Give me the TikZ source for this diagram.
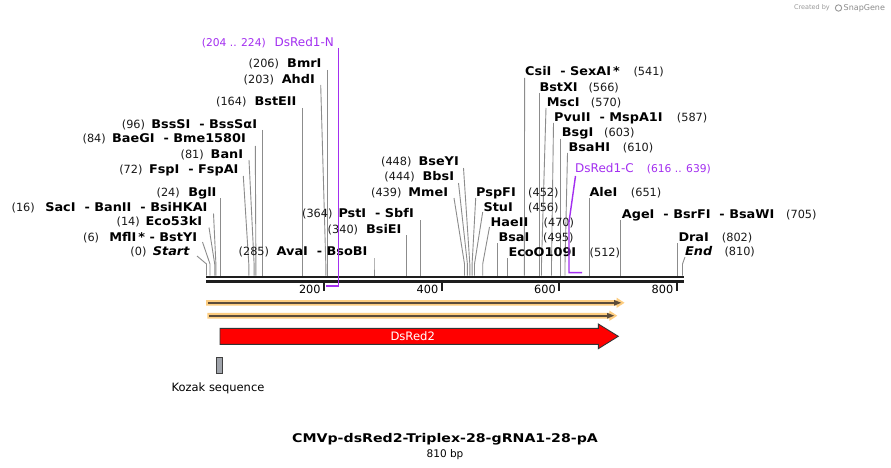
\documentclass[tikz,border=0pt]{standalone}
\usepackage{fontspec}
\setmainfont{DejaVu Sans}
\newfontfamily\nmfont[FakeStretch=1.07]{DejaVu Sans}
\newfontfamily\ttlfont[FakeStretch=1.18]{DejaVu Sans}
\definecolor{prim}{RGB}{163,47,240}
\definecolor{siteln}{RGB}{140,140,140}
\definecolor{barcol}{RGB}{30,30,30}
\definecolor{featorange}{RGB}{253,205,128}
\definecolor{featdark}{RGB}{92,76,58}
\definecolor{kozakgray}{RGB}{160,164,171}
\tikzset{
  numtxt/.style={font=\fontsize{11.3}{13}\selectfont, inner sep=0pt, text=black!90},
  nametxt/.style={font=\nmfont\bfseries\fontsize{12}{14}\selectfont, inner sep=0pt, text=black},
  primtxt/.style={font=\fontsize{12}{14}\selectfont, inner sep=0pt, text=prim},
  primnum/.style={font=\fontsize{10.7}{12}\selectfont, inner sep=0pt, text=prim},
  siteline/.style={draw=siteln, line width=0.9pt},
  primline/.style={draw=prim, line width=1.4pt},
  barline/.style={draw=barcol, line width=2.7pt},
  tickline/.style={draw=barcol, line width=1.8pt},
  ticktxt/.style={font=\fontsize{11.3}{13}\selectfont, inner sep=0pt, anchor=base east},
}
% left-type label: id, num, name, name right edge, num right edge, baseline
\newcommand\SiteL[6]{%
  \node[numtxt, anchor=base east] (#1-n) at (#5,#6) {(#2)};
  \node[nametxt, anchor=base east] (#1-t) at (#4,#6) {#3};}
% right-type label: id, num, name, name left edge, num left edge, baseline
\newcommand\SiteR[6]{%
  \node[nametxt, anchor=base west] (#1-t) at (#4,#6) {#3};
  \node[numtxt, anchor=base west] (#1-n) at (#5,#6) {(#2)};}
% site line: x top, y top, x site
\newcommand\SLine[3]{\draw[siteline] (#1,#2) -- (#3,264) -- (#3,275.6);}
\begin{document}
\begin{tikzpicture}[x=1pt,y=-1pt]
\useasboundingbox (0,0) rectangle (891,468);
\fill[white] (0,0) rectangle (891,468);

% ---------- site lines ----------
\SLine{197}{256}{206.5}
\SLine{202.5}{242}{210.0}
\SLine{209}{227.5}{214.7}
\SLine{213.5}{213.5}{215.9}
\SLine{220.6}{198}{220.6}
\SLine{243.3}{176}{248.8}
\SLine{249}{160}{254.1}
\SLine{255.3}{146}{255.9}
\SLine{262.9}{130}{262.9}
\SLine{302.9}{108}{302.9}
\SLine{320.7}{85}{325.8}
\SLine{327.6}{70}{327.6}
\SLine{374.0}{258}{374.0}
\SLine{406.3}{235}{406.3}
\SLine{420.4}{220}{420.4}
\SLine{454}{198}{464.5}
\SLine{458.5}{183}{467.4}
\SLine{463.5}{168}{469.8}
\SLine{475.7}{198}{472.1}
\SLine{482.7}{212}{474.5}
\SLine{489.5}{227}{482.7}
\SLine{497.4}{243}{497.4}
\SLine{507.4}{258}{507.4}
\SLine{524.6}{78}{524.4}
\SLine{539.1}{93}{539.1}
\SLine{546}{108}{541.5}
\SLine{553.5}{123}{551.5}
\SLine{560.9}{139}{560.9}
\SLine{567.5}{153}{565.0}
\SLine{589.1}{198}{589.1}
\SLine{620.8}{220}{620.8}
\SLine{677.8}{243}{677.8}
\SLine{685}{257}{682.5}

% ---------- left labels ----------
\SiteL{start}{0}{\textit{Start}}{190}{146.7}{255.9}
\SiteL{mfl}{6}{MflI\,*~- BstYI}{197.3}{99.3}{241.5}
\SiteL{eco53}{14}{Eco53kI}{202.3}{140}{225.9}
\SiteL{sac}{16}{SacI~~- BanII~~- BsiHKAI}{207.7}{35}{211.5}
\SiteL{bgl}{24}{BglI}{216.7}{180}{196.5}
\SiteL{fsp}{72}{FspI~~- FspAI}{238.7}{142.7}{173.2}
\SiteL{ban}{81}{BanI}{243.3}{204}{158.5}
\SiteL{baeg}{84}{BaeGI~~- Bme1580I}{246}{106}{142.5}
\SiteL{bsss}{96}{BssSI~~- BssSαI}{257.3}{145.3}{128.2}
\SiteL{bsteii}{164}{BstEII}{296.7}{246.7}{105.9}
\SiteL{ahd}{203}{AhdI}{315}{274.3}{83.2}
\SiteL{bmr}{206}{BmrI}{321.7}{279.3}{67.9}
\SiteL{ava}{285}{AvaI~~- BsoBI}{367.7}{269.3}{255.9}
\SiteL{bsie}{340}{BsiEI}{401.7}{358.3}{233.2}
\SiteL{pst}{364}{PstI~~- SbfI}{414}{332.7}{217.5}
\SiteL{mme}{439}{MmeI}{448.3}{401.7}{196.5}
\SiteL{bbs}{444}{BbsI}{454.3}{415}{180.9}
\SiteL{bsey}{448}{BseYI}{459}{411.7}{165.9}

% ---------- right labels ----------
\SiteR{pspf}{452}{PspFI}{476}{528}{196.2}
\SiteR{stu}{456}{StuI}{483.3}{528}{211.2}
\SiteR{haeii}{470}{HaeII}{490.5}{543.5}{226.2}
\SiteR{bsa}{495}{BsaI}{498.3}{543}{241.2}
\SiteR{ecoo}{512}{EcoO109I}{508.3}{589.5}{256.2}
\SiteR{csi}{541}{CsiI~~- SexAI\,*}{525}{633.3}{75.9}
\SiteR{bstx}{566}{BstXI}{539.3}{588.3}{91.5}
\SiteR{msc}{570}{MscI}{546.7}{590.7}{106.5}
\SiteR{pvu}{587}{PvuII~~- MspA1I}{554}{676.7}{121.5}
\SiteR{bsg}{603}{BsgI}{561.7}{604}{136.5}
\SiteR{bsah}{610}{BsaHI}{568.3}{622.7}{151.5}
\SiteR{ale}{651}{AleI}{589.3}{630.7}{196.5}
\SiteR{age}{705}{AgeI~~- BsrFI~~- BsaWI}{621.7}{786}{218.2}
\SiteR{dra}{802}{DraI}{678.3}{721.7}{241.5}
\SiteR{endl}{810}{\textit{End}}{685}{724.3}{255.9}

% ---------- primer labels ----------
\node[primnum, anchor=base east] (pn-n) at (266,46.2) {(204 .. 224)};
\node[primtxt, anchor=base east] (pn-t) at (334,46.2) {DsRed1-N};
\node[primtxt, anchor=base west] (pc-t) at (575,172.5) {DsRed1-C};
\node[primnum, anchor=base west] (pc-n) at (646.7,172.5) {(616 .. 639)};

% ---------- sequence bar ----------
\draw[barline] (206,277) -- (684,277);
\draw[barline] (206,281.4) -- (684,281.4);
\foreach \tx/\tl in {324.0/200, 441.6/400, 559.1/600, 676.7/800}{
  \draw[tickline] (\tx,282) -- (\tx,290.5);
  \node[ticktxt] (tick\tl) at (\tx-3.2,293.7) {\tl};
}

% ---------- primer brackets ----------
\draw[primline] (338.3,48) -- (338.3,286) -- (326.4,286);
\draw[primline] (575.5,176) -- (569,222) -- (569,272.6) -- (582,272.6);

% ---------- thin feature arrows ----------
\fill[featorange] (206,300) -- (616.5,300) -- (616.5,297.6) -- (624.5,302.8) -- (616.5,308) -- (616.5,305.6) -- (206,305.6) -- cycle;
\draw[featdark, line width=1.8pt] (208,302.8) -- (615,302.8);
\fill[featdark] (614,299.9) -- (621.2,302.8) -- (614,305.7) -- cycle;

\fill[featorange] (207.3,312.9) -- (609.3,312.9) -- (609.3,310.5) -- (617.3,315.7) -- (609.3,320.9) -- (609.3,318.5) -- (207.3,318.5) -- cycle;
\draw[featdark, line width=1.8pt] (209.3,315.7) -- (608,315.7);
\fill[featdark] (607,312.8) -- (614.2,315.7) -- (607,318.6) -- cycle;

% ---------- DsRed2 gene ----------
\draw[fill=red, draw=black!80, line width=0.9pt, line join=miter]
  (220,328.3) -- (598.3,328.3) -- (598.3,324) -- (618.3,336.3) -- (598.3,348.7) -- (598.3,344.3) -- (220,344.3) -- cycle;
\node[font=\fontsize{11.6}{13}\selectfont, text=white, inner sep=0pt] (dsred2) at (412.7,336.3) {DsRed2};

% ---------- Kozak ----------
\draw[fill=kozakgray, draw=black!75, line width=0.8pt] (216,357.3) rectangle (222.3,373.3);
\node[font=\fontsize{11.5}{13}\selectfont, inner sep=0pt, anchor=base] (kozak) at (218,391.5) {Kozak sequence};

% ---------- title ----------
\node[font=\ttlfont\bfseries\fontsize{12}{14}\selectfont, inner sep=0pt, anchor=base] (title) at (445,442.6) {CMVp-dsRed2-Triplex-28-gRNA1-28-pA};
\node[font=\fontsize{10.5}{12}\selectfont, inner sep=0pt, anchor=base] (bp) at (445,457.2) {810 bp};

% ---------- SnapGene mark ----------
\node[font=\fontsize{6.5}{7}\selectfont, text=black!40, inner sep=0pt, anchor=east] (cby) at (830,8) {Created by};
\draw[black!40, line width=0.9pt] (838.5,8) circle (3.2);
\node[font=\fontsize{8}{9}\selectfont, text=black!45, inner sep=0pt, anchor=west] (sg) at (843.5,8) {SnapGene};
\end{tikzpicture}
\end{document}
